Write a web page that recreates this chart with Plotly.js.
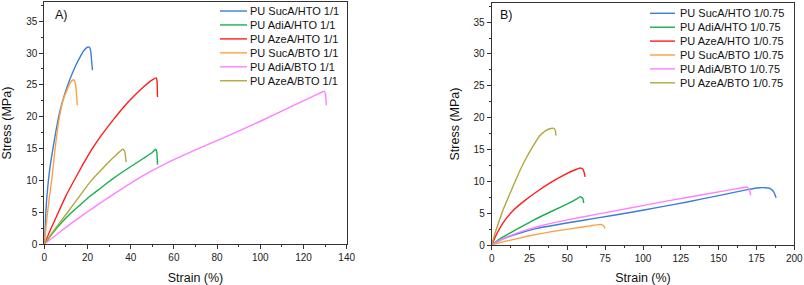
<!DOCTYPE html>
<html>
<head>
<meta charset="utf-8">
<script src="https://cdn.plot.ly/plotly-3.0.1.min.js"></script>
<style>
html,body{margin:0;padding:0;background:#fff;}
#chart{width:804px;height:285px;}
</style>
</head>
<body>
<div id="chart"></div>
<script>
// ---------- Data: panel A (ratio 1/1) ----------
const namesA = ["PU SucA/HTO 1/1","PU AdiA/HTO 1/1","PU AzeA/HTO 1/1","PU SucA/BTO 1/1","PU AdiA/BTO 1/1","PU AzeA/BTO 1/1"];
const sucHTO_A_x = [0,0.3,0.7,1.2,1.9,2.8,4.0,5.5,7.3,9.5,12.0,14.5,16.6,18.6,20.0,20.9,21.5,21.9,22.3];
const sucHTO_A_y = [0,2.5,5.0,7.5,10.0,12.5,15.0,18.0,21.0,23.6,26.0,28.0,29.4,30.5,30.9,30.9,30.3,28.8,27.3];
const adiHTO_A_x = [0,4,8,12,16,21,26,31,36,41,46,50,51.5,52.1,52.4];
const adiHTO_A_y = [0,1.8,3.4,4.8,6.0,7.5,8.8,10.1,11.3,12.4,13.5,14.4,14.9,14.4,12.5];
const azeHTO_A_x = [0,3,6.5,10,13.8,18,22,26,30,34,38,42,46,50,51.8,52.2,52.4];
const azeHTO_A_y = [0,2.4,5,7.6,10,12.6,14.9,16.9,18.7,20.4,22.0,23.4,24.7,25.8,26.1,25.6,23.1];
const sucBTO_A_x = [0,0.5,1.2,2.2,3.4,4.2,5.0,6.1,7.3,8.6,10.4,12.0,13.4,14.2,14.7,15.0,15.3];
const sucBTO_A_y = [0,1.5,4,7,10,12.5,15,18,20.5,22.5,24.1,25.3,25.8,25.5,24.5,23,21.8];
const adiBTO_A_x = [0,5,10,15,20,25,30,35,41,48,58.3,70,85,100,115,125,129.7,130.2,130.6];
const adiBTO_A_y = [0,1.35,2.65,3.9,5.1,6.25,7.4,8.5,9.8,11.2,13.0,14.8,17.0,19.3,21.7,23.3,24.0,23.5,21.8];
const azeBTO_A_x = [0,3,6,11,16,22,27,32,36.3,37.2,37.9];
const azeBTO_A_y = [0,1.5,2.9,5.1,7.4,10.1,11.9,13.6,14.9,14.6,12.9];

// ---------- Data: panel B (ratio 1/0.75) ----------
const namesB = ["PU SucA/HTO 1/0.75","PU AdiA/HTO 1/0.75","PU AzeA/HTO 1/0.75","PU SucA/BTO 1/0.75","PU AdiA/BTO 1/0.75","PU AzeA/BTO 1/0.75"];
const sucHTO_B_x = [0,5,17.6,30,49.6,70,91.4,110,130,150,169,177,181,183,185,186.5,188];
const sucHTO_B_y = [0,0.7,1.8,2.6,3.45,4.25,5.1,5.9,6.8,7.75,8.7,9.0,9.0,8.95,8.7,8.3,7.4];
const adiHTO_B_x = [0,5,10,17.6,28,39.7,50,56,58.5,60.3,60.8];
const adiHTO_B_y = [0,0.9,1.6,2.6,3.95,5.3,6.45,7.2,7.6,7.3,6.6];
const azeHTO_B_x = [0,3,8.8,15,22,30,39.7,48,54,58.4,60.3,61.2,61.7];
const azeHTO_B_y = [0,1.6,3.9,5.6,7.0,8.4,9.9,11.0,11.7,12.1,11.9,11.3,10.7];
const sucBTO_B_x = [0,5,13.2,25,39.7,55,65,70.5,72.7,74.2,74.9];
const sucBTO_B_y = [0,0.35,0.8,1.45,2.1,2.65,3.0,3.2,3.2,2.95,2.6];
const adiBTO_B_x = [0,5,13.2,22,34.1,50,70,91.4,110,130,150,165,169,170.5,171.2];
const adiBTO_B_y = [0,0.7,1.56,2.3,3.1,3.95,4.85,5.8,6.65,7.5,8.35,8.95,9.1,8.5,7.8];
const azeBTO_B_x = [0,2,4.4,8,12.1,17,22,27,31.9,36,39,41.4,42.2,42.5];
const azeBTO_B_y = [0,1.7,3.4,5.8,8.1,10.8,13.3,15.4,17.2,18.0,18.3,18.3,17.8,17.2];

const colors = ["#3a7ddc","#16b04e","#ff1e1e","#ffa040","#ff80ff","#b3a73a"];

const seriesA = [[sucHTO_A_x,sucHTO_A_y],[adiHTO_A_x,adiHTO_A_y],[azeHTO_A_x,azeHTO_A_y],[sucBTO_A_x,sucBTO_A_y],[adiBTO_A_x,adiBTO_A_y],[azeBTO_A_x,azeBTO_A_y]];
const seriesB = [[sucHTO_B_x,sucHTO_B_y],[adiHTO_B_x,adiHTO_B_y],[azeHTO_B_x,azeHTO_B_y],[sucBTO_B_x,sucBTO_B_y],[adiBTO_B_x,adiBTO_B_y],[azeBTO_B_x,azeBTO_B_y]];

const W = 804, H = 285;
const PX = p => p / W;
const PY = p => 1 - p / H;

const traces = [];
seriesA.forEach((s, i) => traces.push({x: s[0], y: s[1], name: namesA[i], type: 'scatter', mode: 'lines',
  line: {color: colors[i], width: 1.4, shape: 'spline', smoothing: 0.4}, xaxis: 'x', yaxis: 'y', showlegend: false, hoverinfo: 'skip'}));
seriesB.forEach((s, i) => traces.push({x: s[0], y: s[1], name: namesB[i], type: 'scatter', mode: 'lines',
  line: {color: colors[i], width: 1.4, shape: 'spline', smoothing: 0.4}, xaxis: 'x2', yaxis: 'y2', showlegend: false, hoverinfo: 'skip'}));

const font = 'Arial, "Liberation Sans", sans-serif';
const axisCommon = {
  showline: true, linecolor: '#333', linewidth: 1, mirror: true,
  ticks: 'outside', ticklen: 4, tickwidth: 1, tickcolor: '#333',
  showgrid: false, zeroline: false,
  tickfont: {family: font, size: 10, color: '#222'}
};

const shapes = [], annotations = [];
function addLegend(names, x0, x1, xt, y0, dy) {
  names.forEach((n, i) => {
    const y = y0 + i * dy;
    shapes.push({type: 'line', xref: 'paper', yref: 'paper', x0: PX(x0), x1: PX(x1), y0: PY(y), y1: PY(y),
      line: {color: colors[i], width: 1.4}});
    annotations.push({xref: 'paper', yref: 'paper', x: PX(xt), y: PY(y), xanchor: 'left', yanchor: 'middle',
      text: n, showarrow: false, font: {family: font, size: 11, color: '#111'}});
  });
}
addLegend(namesA, 220, 247, 248, 11, 13.95);
addLegend(namesB, 650, 675, 678, 13.3, 13.9);
annotations.push({xref: 'paper', yref: 'paper', x: PX(53), y: PY(15), xanchor: 'left', yanchor: 'middle',
  text: 'A)', showarrow: false, font: {family: font, size: 12.5, color: '#111'}});
annotations.push({xref: 'paper', yref: 'paper', x: PX(498), y: PY(15), xanchor: 'left', yanchor: 'middle',
  text: 'B)', showarrow: false, font: {family: font, size: 12.5, color: '#111'}});

const titleFont = {family: font, size: 12.5, color: '#111'};
const layout = {
  width: W, height: H,
  margin: {l: 0, r: 0, t: 0, b: 0},
  paper_bgcolor: '#fff', plot_bgcolor: '#fff',
  showlegend: false,
  xaxis: Object.assign({}, axisCommon, {domain: [PX(44.3), PX(346.7)], range: [0, 140], dtick: 20, tick0: 0,
    minor: {ticks: 'outside', ticklen: 2, tickcolor: '#333', dtick: 10, showgrid: false},
    anchor: 'y', title: {text: 'Strain (%)', font: titleFont, standoff: 10}}),
  yaxis: Object.assign({}, axisCommon, {domain: [1 - 244.3 / H, 1 - 2 / H], range: [0, 38], dtick: 5, tick0: 0,
    minor: {ticks: 'outside', ticklen: 2, tickcolor: '#333', dtick: 2.5, showgrid: false},
    anchor: 'x', title: {text: 'Stress (MPa)', font: titleFont, standoff: 11}}),
  xaxis2: Object.assign({}, axisCommon, {domain: [PX(491.7), PX(794.3)], range: [0, 200], dtick: 25, tick0: 0,
    minor: {ticks: 'outside', ticklen: 2, tickcolor: '#333', dtick: 12.5, showgrid: false},
    anchor: 'y2', title: {text: 'Strain (%)', font: titleFont, standoff: 10}}),
  yaxis2: Object.assign({}, axisCommon, {domain: [1 - 245 / H, 1 - 3 / H], range: [0, 38], dtick: 5, tick0: 0,
    minor: {ticks: 'outside', ticklen: 2, tickcolor: '#333', dtick: 2.5, showgrid: false},
    anchor: 'x2', title: {text: 'Stress (MPa)', font: titleFont, standoff: 11}}),
  shapes: shapes,
  annotations: annotations
};

Plotly.newPlot('chart', traces, layout, {displayModeBar: false, staticPlot: true});
</script>
</body>
</html>
